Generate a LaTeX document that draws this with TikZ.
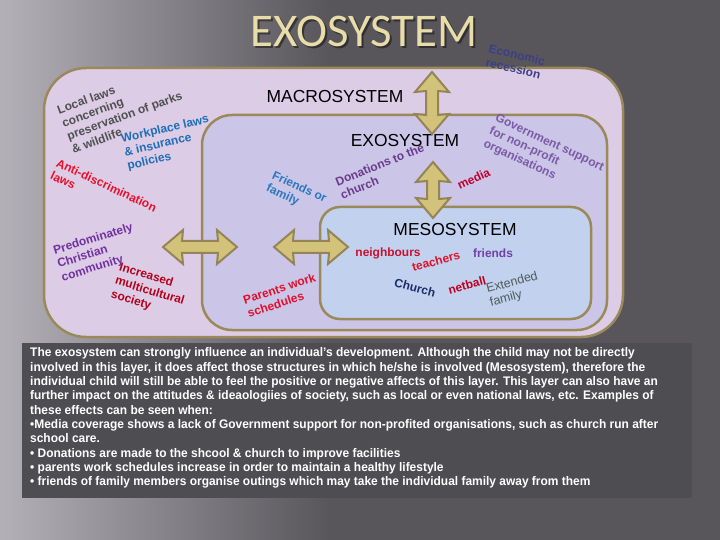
\documentclass[tikz,border=0pt]{standalone}
\usepackage{fontspec}
\setmainfont{Liberation Sans}
\newfontfamily\titlefont{Carlito}
\newfontfamily\narrowfont[FakeStretch=0.96]{Liberation Sans}
\usetikzlibrary{positioning}

\definecolor{bgdark}{HTML}{58565B}
\definecolor{bglight}{HTML}{B3B1B7}
\definecolor{titletan}{HTML}{E8DCAA}
\definecolor{boxtan}{HTML}{9A8A5A}
\definecolor{macrofill}{HTML}{DCCCE6}
\definecolor{exofill}{HTML}{CBC5E7}
\definecolor{mesofill}{HTML}{C2D1EE}
\definecolor{arrowtan}{HTML}{D2C27A}
\definecolor{arrowedge}{HTML}{958556}
\definecolor{descfill}{HTML}{4E4D52}

\tikzset{
    lbl/.style={font=\fontsize{12}{14}\selectfont\bfseries, inner sep=0pt, align=left, anchor=north west},
    layer/.style={font=\fontsize{17.5}{20}\selectfont, inner sep=0pt},
    boxline/.style={draw=boxtan, line width=2.5bp},
    arrowfill/.style={draw=arrowedge, fill=arrowtan, line width=2bp, line join=miter},
    pics/dblarrow/.style={code={
        \draw[arrowfill] (-#1,0) -- (-#1+20,-17) -- (-#1+19,-6) -- (#1-19,-6) -- (#1-20,-17)
            -- (#1,0) -- (#1-20,17) -- (#1-19,6) -- (-#1+19,6) -- (-#1+20,17) -- cycle;
    }}
}

\begin{document}
\begin{tikzpicture}[x=1bp, y=-1bp, line join=round]
    % background
    \fill[bgdark] (0,0) rectangle (720,540);
    \shade[left color=bglight, right color=bgdark] (0,0) rectangle (330,540);
    \useasboundingbox (0,0) rectangle (720,540);

    % title
    \node[font=\titlefont\fontsize{47}{50}\selectfont, text=black, opacity=.45] at (366,33) {EXOSYSTEM};
    \node[font=\titlefont\fontsize{47}{50}\selectfont, text=titletan] (title) at (364,31) {EXOSYSTEM};

    % the three layers
    \draw[boxline, fill=macrofill, rounded corners=42bp] (44,68) rectangle (623,337);
    \draw[boxline, fill=exofill, rounded corners=30bp] (202,115) rectangle (607,330);
    \draw[boxline, fill=mesofill, rounded corners=20bp] (320,207) rectangle (591,319);

    \node[layer] (macro) at (335,97) {MACROSYSTEM};
    \node[layer] (exo) at (405,140) {EXOSYSTEM};
    \node[layer] (meso) at (455,229) {MESOSYSTEM};

    % double arrows between layers
    \pic[rotate=90] at (432,103) {dblarrow=31};
    \pic[rotate=90] at (433,190) {dblarrow=28};
    \pic at (200,247) {dblarrow=37};
    \pic at (311,247) {dblarrow=37};

    % macrosystem
    \node[lbl, text={rgb,255:red,80;green,80;blue,80}, rotate=20] (local) at (56,106)
        {Local laws\\concerning\\preservation of parks\\\& wildlife};
    \node[lbl, text={rgb,255:red,31;green,109;blue,181}, rotate=13] (work) at (120,134)
        {Workplace laws\\\& insurance\\policies};
    \node[lbl, text={rgb,255:red,232;green,17;blue,45}, rotate=-25] (anti) at (59,158)
        {Anti-discrimination\\laws};
    \node[lbl, text={rgb,255:red,112;green,48;blue,160}, rotate=17] (christ) at (52,246)
        {Predominately\\Christian\\community};
    \node[lbl, text={rgb,255:red,181;green,0;blue,28}, rotate=-17] (multi) at (121,262)
        {Increased\\multicultural\\society};
    \node[lbl, text={rgb,255:red,59;green,63;blue,136}, rotate=-13] (econ) at (490,44)
        {Economic\\recession};

    % exosystem
    \node[lbl, text={rgb,255:red,43;green,120;blue,192}, rotate=-25] (frfam) at (275,170)
        {Friends or\\family};
    \node[lbl, text={rgb,255:red,107;green,59;blue,139}, rotate=22] (donat) at (334,178)
        {Donations to the\\church};
    \node[lbl, text={rgb,255:red,192;green,0;blue,44}, rotate=25] (media) at (456,182) {media};
    \node[lbl, text={rgb,255:red,123;green,90;blue,166}, rotate=-25] (govt) at (498,113)
        {Government support\\for non-profit\\organisations};
    \node[lbl, text={rgb,255:red,224;green,16;blue,43}, rotate=18] (parents) at (242,296)
        {Parents work\\schedules};

    % mesosystem
    \node[lbl, anchor=center, text={rgb,255:red,200;green,16;blue,46}] (neigh) at (388,253) {neighbours};
    \node[lbl, anchor=center, text={rgb,255:red,224;green,16;blue,43}, rotate=15] (teach) at (436,261) {teachers};
    \node[lbl, anchor=center, text={rgb,255:red,112;green,64;blue,168}] (friends) at (493,253) {friends};
    \node[lbl, anchor=center, text={rgb,255:red,28;green,44;blue,104}, rotate=-15] (church) at (415,288) {Church};
    \node[lbl, anchor=center, text={rgb,255:red,192;green,0;blue,32}, rotate=15] (netball) at (467,285) {netball};
    \node[lbl, font=\fontsize{12.5}{14}\selectfont, text={rgb,255:red,78;green,90;blue,88}, rotate=15] (extfam) at (485,284)
        {Extended\\family};

    % description
    \fill[descfill] (22,343) rectangle (692,498);
    \node[anchor=north west, inner sep=0pt, align=left, text=white,
          font=\narrowfont\bfseries\fontsize{12.5}{14.4}\selectfont] (desc) at (30,347.5)
        {The exosystem can strongly influence an individual’s development. Although the child may not be directly\\
         involved in this layer, it does affect those structures in which he/she is involved (Mesosystem), therefore the\\
         individual child will still be able to feel the positive or negative affects of this layer. This layer can also have an\\
         further impact on the attitudes \& ideaologiies of society, such as local or even national laws, etc. Examples of\\
         these effects can be seen when:\\
         •Media coverage shows a lack of Government support for non-profited organisations, such as church run after\\
         school care.\\
         • Donations are made to the shcool \& church to improve facilities\\
         • parents work schedules increase in order to maintain a healthy lifestyle\\
         • friends of family members organise outings which may take the individual family away from them};
\end{tikzpicture}
\end{document}
